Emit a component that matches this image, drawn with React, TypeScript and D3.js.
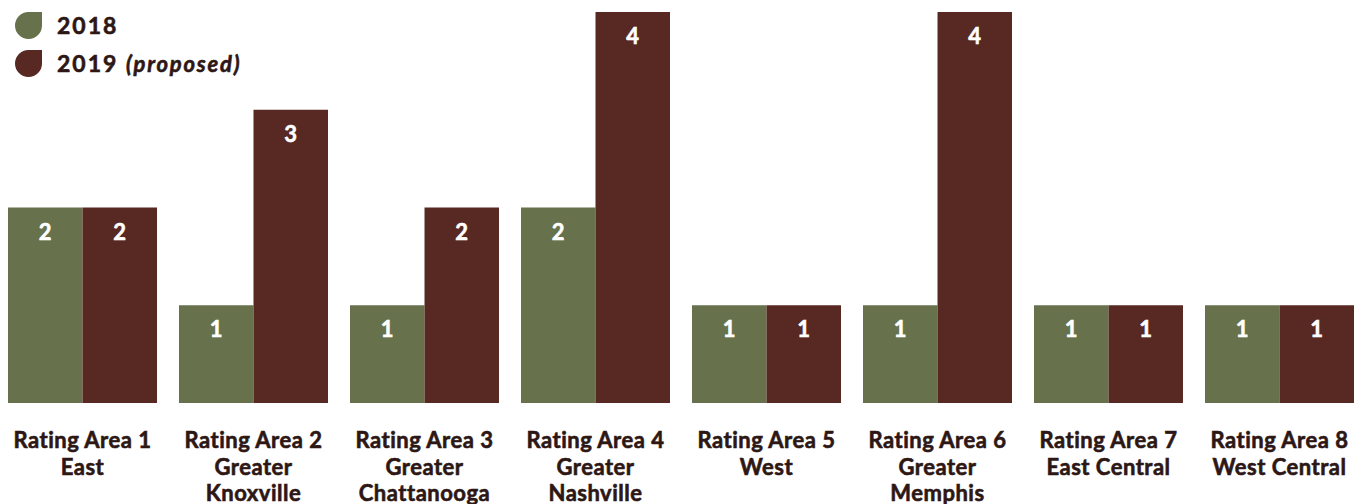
import React from "react";
import * as d3 from "d3";

const categories = ["Rating Area 1", "Rating Area 2", "Rating Area 3", "Rating Area 4", "Rating Area 5", "Rating Area 6", "Rating Area 7", "Rating Area 8"];
const subLabels = [["East"], ["Greater", "Knoxville"], ["Greater", "Chattanooga"], ["Greater", "Nashville"], ["West"], ["Greater", "Memphis"], ["East Central"], ["West Central"]];
const values2018 = [2, 1, 1, 2, 1, 1, 1, 1];
const values2019 = [2, 3, 2, 4, 1, 4, 1, 1];
const seriesNames = ["2018", "2019"];
const colors = ["#67714b", "#582823"];
const textColor = "#2d1715";

export default function App() {
  const W = 1372, H = 504;
  const x = d3.scaleBand<string>().domain(categories).range([8, 1354]).paddingInner(22 / 171).paddingOuter(0);
  const xs = d3.scaleBand<string>().domain(seriesNames).range([0, x.bandwidth()]);
  const y = d3.scaleLinear().domain([0, 4]).range([403, 12]);
  const font = "Lato, 'Open Sans', sans-serif";
  const series = [values2018, values2019];
  const leaf = (s: number) => `M0,${s / 2} A${s / 2},${s / 2} 0 0 1 ${s / 2},0 L${s},0 L${s},${s / 2} A${s / 2},${s / 2} 0 0 1 ${s / 2},${s} A${s / 2},${s / 2} 0 0 1 0,${s / 2} Z`;
  return (
    <svg width={W} height={H} style={{ position: "absolute", left: 0, top: 0 }}>
      {categories.map((c, i) => (
        <g key={c} transform={`translate(${x(c)},0)`}>
          {series.map((vals, s) => {
            const bx = xs(seriesNames[s])!;
            const v = vals[i];
            return (
              <g key={s}>
                <rect x={bx} y={y(v)} width={xs.bandwidth()} height={y(0) - y(v)} fill={colors[s]} />
                <text x={bx + xs.bandwidth() / 2} y={y(v) + 32} textAnchor="middle" fill="#fff" stroke="#fff" strokeWidth={0.6} fontFamily={font} fontWeight={700} fontSize={22}>{v}</text>
              </g>
            );
          })}
          <text x={x.bandwidth() / 2} y={448} textAnchor="middle" fill={textColor} stroke={textColor} strokeWidth={0.6} letterSpacing={0.5} fontFamily={font} fontWeight={700} fontSize={22}>
            <tspan x={x.bandwidth() / 2} y={448}>{c}</tspan>
            {subLabels[i].map((l, k) => (
              <tspan key={k} x={x.bandwidth() / 2} y={448 + 26.5 * (k + 1)}>{l}</tspan>
            ))}
          </text>
        </g>
      ))}
      <g transform="translate(15,12)">
        <path d={leaf(27)} fill={colors[0]} />
        <text x={42} y={22} fill={textColor} stroke={textColor} strokeWidth={0.6} letterSpacing={2} fontFamily={font} fontWeight={700} fontSize={23}>2018</text>
      </g>
      <g transform="translate(15,50)">
        <path d={leaf(27)} fill={colors[1]} />
        <text x={42} y={22} fill={textColor} stroke={textColor} strokeWidth={0.6} letterSpacing={2} fontFamily={font} fontWeight={700} fontSize={23}>
          2019 <tspan fontStyle="italic" fontSize={22} letterSpacing={1.8}>(proposed)</tspan>
        </text>
      </g>
    </svg>
  );
}
